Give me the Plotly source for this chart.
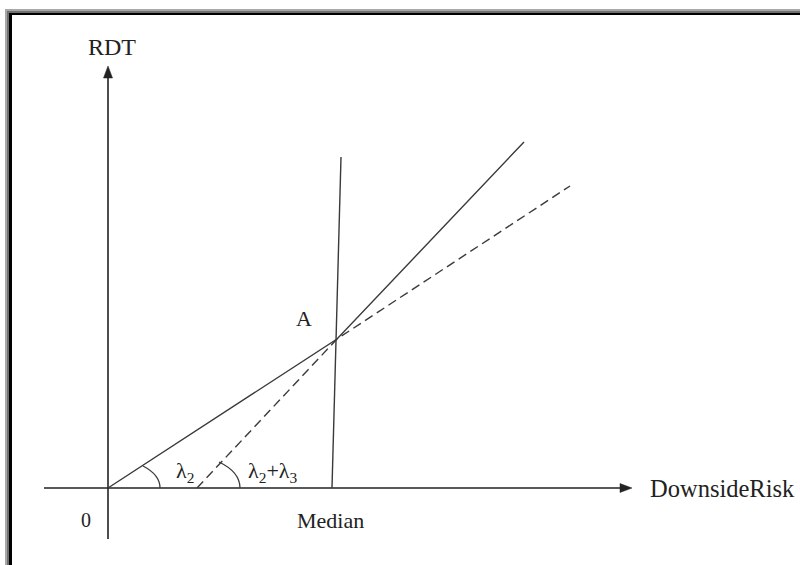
import plotly.graph_objects as go

# Diagram coordinates (origin O at the axes crossing, y up)
origin = [0, 0]
point_a = [229, 149]
median_line_x = [224, 233]
median_line_y = [0, 331]
solid_x = [0, 229, 416]
solid_y = [0, 149, 346]
dashed_x = [89, 229, 462]
dashed_y = [0, 149, 302]
x_axis_x = [-64, 513]
y_axis_y = [-51, 411]

labels = ["RDT", "DownsideRisk", "0", "Median", "A", "λ<sub>2</sub>", "λ<sub>2</sub>+λ<sub>3</sub>"]
label_x = [4, 540, -22, 222, 196, 77, 164]
label_y = [441, 0, -32, -32, 170, 16, 16]
label_anchor = ["center", "left", "center", "center", "center", "center", "center"]
label_size = [24, 24.5, 20, 22, 22, 22, 22]

INK = "#222222"
LINE = "#3a3a3a"

fig = go.Figure()

# axes
fig.add_trace(go.Scatter(x=x_axis_x, y=[0, 0], mode="lines",
                         line=dict(color=INK, width=1.6), hoverinfo="skip"))
fig.add_trace(go.Scatter(x=[0, 0], y=y_axis_y, mode="lines",
                         line=dict(color=INK, width=1.6), hoverinfo="skip"))
# median vertical line
fig.add_trace(go.Scatter(x=median_line_x, y=median_line_y, mode="lines",
                         line=dict(color=LINE, width=1.4), hoverinfo="skip"))
# solid kinked line
fig.add_trace(go.Scatter(x=solid_x, y=solid_y, mode="lines",
                         line=dict(color=LINE, width=1.4), hoverinfo="skip"))
# dashed line
fig.add_trace(go.Scatter(x=dashed_x, y=dashed_y, mode="lines",
                         line=dict(color=LINE, width=1.4, dash="9px,5px"), hoverinfo="skip"))

shapes = []
# frame (left / top bevel)
for x0, y0, col in [(-103, 479, "#a8a8a8"), (-101, 477, "#707070"), (-99, 475, "#000000"), (-96, 473, "#ffffff")]:
    shapes.append(dict(type="rect", xref="x", yref="y", x0=x0, y0=-100, x1=720, y1=y0,
                       fillcolor=col, line=dict(width=0), layer="below"))
# arrow heads
shapes.append(dict(type="path", xref="x", yref="y",
                   path="M 524,0 L 512,4.5 L 512,-4.5 Z", fillcolor=INK, line=dict(color=INK, width=0.5)))
shapes.append(dict(type="path", xref="x", yref="y",
                   path="M 0,422 L 4.5,410 L -4.5,410 Z", fillcolor=INK, line=dict(color=INK, width=0.5)))
# angle arcs
shapes.append(dict(type="path", xref="x", yref="y",
                   path="M 35,22 C 45.8,16.4 52,8.3 52,0", line=dict(color=LINE, width=1.3)))
shapes.append(dict(type="path", xref="x", yref="y",
                   path="M 111,26 C 124.4,19.6 132,10.1 132,0", line=dict(color=LINE, width=1.3)))

annotations = []
for t, x, y, anc, s in zip(labels, label_x, label_y, label_anchor, label_size):
    annotations.append(dict(text=t, x=x, y=y, xref="x", yref="y", showarrow=False,
                            xanchor=anc, yanchor="middle",
                            font=dict(family="Liberation Serif", size=s, color=INK)))

fig.update_layout(
    width=800, height=565,
    margin=dict(l=0, r=0, t=0, b=0),
    paper_bgcolor="white", plot_bgcolor="white",
    showlegend=False,
    shapes=shapes, annotations=annotations,
    xaxis=dict(range=[-108, 692], visible=False, fixedrange=True),
    yaxis=dict(range=[-77, 488], visible=False, fixedrange=True),
)

fig.write_html("out.html", config={"displayModeBar": False},
               post_script="document.body.style.margin='0px';document.body.style.overflow='hidden';")
